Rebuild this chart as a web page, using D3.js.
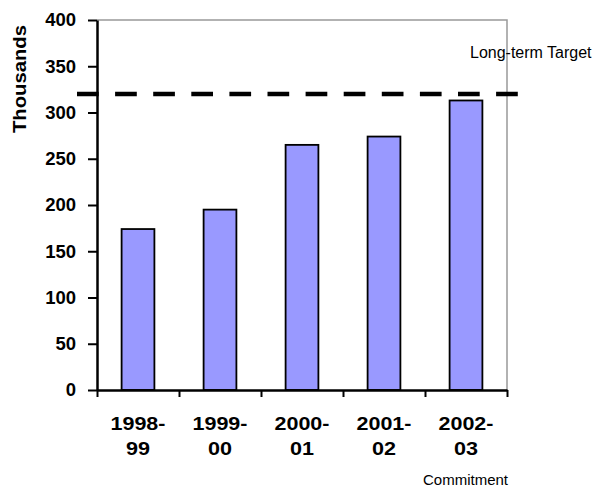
<!DOCTYPE html>
<html>
<head>
<meta charset="utf-8">
<script src="https://cdn.jsdelivr.net/npm/d3@7"></script>
<style>
  html, body { margin: 0; padding: 0; background: #fff; }
  svg { display: block; font-family: Arial, "Liberation Sans", sans-serif; }
</style>
</head>
<body>
<svg id="chart" width="596" height="489"></svg>
<script>
// Commitments per year, in thousands
const years = [["1998-", "99"], ["1999-", "00"], ["2000-", "01"], ["2001-", "02"], ["2002-", "03"]];
const commitments = [174, 195, 265, 274, 313];
const targetValue = 320;
const yTicks = [0, 50, 100, 150, 200, 250, 300, 350, 400];

const svg = d3.select("#chart");
const plot = { left: 97, right: 507, top: 20, bottom: 390 };

const x = d3.scaleBand()
  .domain(d3.range(years.length))
  .range([plot.left, plot.right])
  .paddingInner(0)
  .paddingOuter(0);

const y = d3.scaleLinear().domain([0, 400]).range([plot.bottom, plot.top]);

// Grey frame on the top and right sides of the plot area
svg.append("path")
  .attr("d", `M${plot.left},${y(400)}H${plot.right}V${plot.bottom}`)
  .attr("fill", "none")
  .attr("stroke", "#999")
  .attr("stroke-width", 1.5);

// Bars
const barW = x.bandwidth() * 0.40;
svg.append("g").selectAll("rect")
  .data(commitments)
  .join("rect")
  .attr("x", (d, i) => x(i) + (x.bandwidth() - barW) / 2)
  .attr("y", d => y(d))
  .attr("width", barW)
  .attr("height", d => y(0) - y(d))
  .attr("fill", "#9999ff")
  .attr("stroke", "#000")
  .attr("stroke-width", 1.8);

// Y axis
const yAxis = svg.append("g")
  .attr("transform", `translate(${plot.left},0)`)
  .call(d3.axisLeft(y).tickValues(yTicks).tickSize(9).tickPadding(12).tickSizeOuter(0));
yAxis.select(".domain").attr("stroke", "#000").attr("stroke-width", 2.5);
yAxis.selectAll(".tick line").attr("stroke", "#000").attr("stroke-width", 2);
yAxis.selectAll(".tick text")
  .attr("font-size", 18.5).attr("font-weight", "bold").attr("fill", "#000")
  .attr("font-family", "Arial, 'Liberation Sans', sans-serif");

// X axis: ticks at category boundaries
const xEdge = d3.scaleLinear().domain([0, years.length]).range([plot.left, plot.right]);
const xAxis = svg.append("g")
  .attr("transform", `translate(0,${plot.bottom})`)
  .call(d3.axisBottom(xEdge).tickValues(d3.range(years.length + 1)).tickSize(7).tickSizeOuter(0).tickFormat(""));
xAxis.select(".domain").attr("stroke", "#000").attr("stroke-width", 2.5);
xAxis.selectAll(".tick line").attr("stroke", "#000").attr("stroke-width", 2);

// Category labels (two lines each)
const labels = svg.append("g")
  .attr("font-size", 18.5).attr("font-weight", "bold").attr("fill", "#000")
  .attr("text-anchor", "middle");
years.forEach((lines, i) => {
  const cx = x(i) + x.bandwidth() / 2;
  labels.append("text").attr("x", cx).attr("y", 430)
    .attr("textLength", 55).attr("lengthAdjust", "spacingAndGlyphs").text(lines[0]);
  labels.append("text").attr("x", cx).attr("y", 455)
    .attr("textLength", 24).attr("lengthAdjust", "spacingAndGlyphs").text(lines[1]);
});

// Long-term target line
svg.append("line")
  .attr("x1", 77).attr("x2", 519)
  .attr("y1", y(targetValue)).attr("y2", y(targetValue))
  .attr("stroke", "#000")
  .attr("stroke-width", 4.5)
  .attr("stroke-dasharray", "21.7 16.4");

// Axis titles and annotation
svg.append("text")
  .attr("transform", "translate(26,79) rotate(-90)")
  .attr("text-anchor", "middle")
  .attr("font-size", 19).attr("font-weight", "bold").attr("fill", "#000")
  .attr("textLength", 108).attr("lengthAdjust", "spacingAndGlyphs")
  .text("Thousands");

svg.append("text")
  .attr("x", 470).attr("y", 58)
  .attr("font-size", 16).attr("fill", "#000")
  .text("Long-term Target");

svg.append("text")
  .attr("x", 423).attr("y", 485)
  .attr("font-size", 15).attr("fill", "#000")
  .text("Commitment");
</script>
</body>
</html>
